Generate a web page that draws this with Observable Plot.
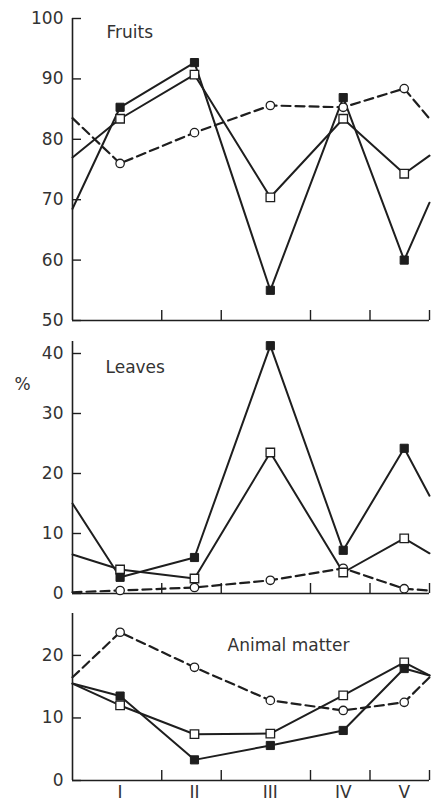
<!DOCTYPE html>
<html>
<head>
<meta charset="utf-8">
<script src="https://cdn.jsdelivr.net/npm/d3@7"></script>
<script src="https://cdn.jsdelivr.net/npm/@observablehq/plot@0.6"></script>
<style>
  html, body { margin: 0; padding: 0; background: #fff; }
  #chart svg { display: block; }
</style>
</head>
<body>
<div id="chart"></div>
<script>
// ---- categories / x positions (months of the year) ----
const periods = ["I", "II", "III", "IV", "V"];
const periodMonth = [1.6, 4.1, 6.65, 9.1, 11.15];
const boundaryMonths = [3, 5, 8, 10, 12];
const edgeMonths = [0, 12];

// ---- Fruits (%) ----
const fruitsFilled = [85.3, 92.7, 55, 86.9, 60];
const fruitsFilledEdges = [68.5, 69.5];
const fruitsOpen = [83.4, 90.7, 70.4, 83.4, 74.3];
const fruitsOpenEdges = [77, 77.3];
const fruitsCircle = [76, 81.1, 85.6, 85.3, 88.4];
const fruitsCircleEdges = [83.5, 83.4];
const fruitsTicks = [50, 60, 70, 80, 90, 100];

// ---- Leaves (%) ----
const leavesFilled = [2.7, 6, 41.3, 7.2, 24.2];
const leavesFilledEdges = [15, 16.3];
const leavesOpen = [4, 2.5, 23.5, 3.5, 9.2];
const leavesOpenEdges = [6.5, 6.7];
const leavesCircle = [0.5, 1, 2.2, 4.2, 0.8];
const leavesCircleEdges = [0.2, 0.5];
const leavesTicks = [0, 10, 20, 30, 40];

// ---- Animal matter (%) ----
const animalFilled = [13.5, 3.3, 5.6, 8, 17.9];
const animalFilledEdges = [15.5, 16.8];
const animalOpen = [12, 7.4, 7.5, 13.6, 18.9];
const animalOpenEdges = [15.5, 16.8];
const animalCircle = [23.7, 18.1, 12.8, 11.2, 12.5];
const animalCircleEdges = [16.5, 16.5];
const animalTicks = [0, 10, 20];

function series(kind, edges, vals) {
  return [
    {m: edgeMonths[0], v: edges[0], kind, marker: false},
    ...vals.map((v, i) => ({m: periodMonth[i], v, kind, marker: true})),
    {m: edgeMonths[1], v: edges[1], kind, marker: false}
  ];
}

const INK = "#1e1e1e";
const TXT = "#333";

function panel({filled, open, circle, yDomain, yTicks, height, marginTop, marginBottom, title, titleDx, titleDy, showLabels, extra = []}) {
  const pts = d => d.filter(r => r.marker);
  return Plot.plot({
    width: 435,
    height,
    marginLeft: 72,
    marginRight: 6,
    marginTop,
    marginBottom,
    x: {domain: [0, 12], label: null},
    y: {domain: yDomain, label: null},
    style: {fontFamily: "DejaVu Sans", fontSize: "17px", color: TXT, background: "white", overflow: "visible"},
    marks: [
      Plot.ruleX([0], {stroke: INK, strokeWidth: 1.6}),
      Plot.ruleY([yDomain[0]], {stroke: INK, strokeWidth: 1.6}),
      Plot.axisY(yTicks, {anchor: "left", tickSize: 0, tickPadding: 9, fill: TXT}),
      Plot.axisY(yTicks, {anchor: "left", tickSize: -9, tickFormat: () => "", stroke: INK, strokeWidth: 1.4}),
      Plot.axisX(boundaryMonths, {anchor: "bottom", tickSize: -10, tickFormat: () => "", stroke: INK, strokeWidth: 1.4}),
      showLabels
        ? Plot.axisX(periodMonth, {anchor: "bottom", tickSize: 0, tickPadding: 5, tickFormat: d => periods[periodMonth.indexOf(d)], fill: TXT})
        : null,
      Plot.line(circle, {x: "m", y: "v", stroke: INK, strokeWidth: 2.2, strokeDasharray: "9,5"}),
      Plot.line(open, {x: "m", y: "v", stroke: INK, strokeWidth: 2}),
      Plot.line(filled, {x: "m", y: "v", stroke: INK, strokeWidth: 2}),
      Plot.dot(pts(circle), {x: "m", y: "v", r: 4.2, fill: "white", stroke: INK, strokeWidth: 1.3}),
      Plot.dot(pts(open), {x: "m", y: "v", symbol: "square", r: 4.8, fill: "white", stroke: INK, strokeWidth: 1.3}),
      Plot.dot(pts(filled), {x: "m", y: "v", symbol: "square", r: 4.6, fill: INK, stroke: INK, strokeWidth: 1}),
      Plot.text([title], {frameAnchor: "top-left", dx: titleDx, dy: titleDy, textAnchor: "start", lineAnchor: "middle", fill: TXT, fontSize: 17}),
      ...extra
    ]
  });
}

const chart = document.getElementById("chart");

chart.append(panel({
  filled: series("filled", fruitsFilledEdges, fruitsFilled),
  open: series("open", fruitsOpenEdges, fruitsOpen),
  circle: series("circle", fruitsCircleEdges, fruitsCircle),
  yDomain: [50, 100], yTicks: fruitsTicks,
  height: 330, marginTop: 18, marginBottom: 10,
  title: "Fruits", titleDx: 34, titleDy: 14, showLabels: false
}));

chart.append(panel({
  filled: series("filled", leavesFilledEdges, leavesFilled),
  open: series("open", leavesOpenEdges, leavesOpen),
  circle: series("circle", leavesCircleEdges, leavesCircle),
  yDomain: [0, 42], yTicks: leavesTicks,
  height: 268, marginTop: 11, marginBottom: 5,
  title: "Leaves", titleDx: 33, titleDy: 26, showLabels: false,
  extra: [Plot.text(["%"], {frameAnchor: "top-left", dx: -50, dy: 43, textAnchor: "middle", lineAnchor: "middle", fill: TXT, fontSize: 17})]
}));

chart.append(panel({
  filled: series("filled", animalFilledEdges, animalFilled),
  open: series("open", animalOpenEdges, animalOpen),
  circle: series("circle", animalCircleEdges, animalCircle),
  yDomain: [0, 26.7], yTicks: animalTicks,
  height: 202, marginTop: 15, marginBottom: 20,
  title: "Animal matter", titleDx: 155, titleDy: 32, showLabels: true
}));
</script>
</body>
</html>
